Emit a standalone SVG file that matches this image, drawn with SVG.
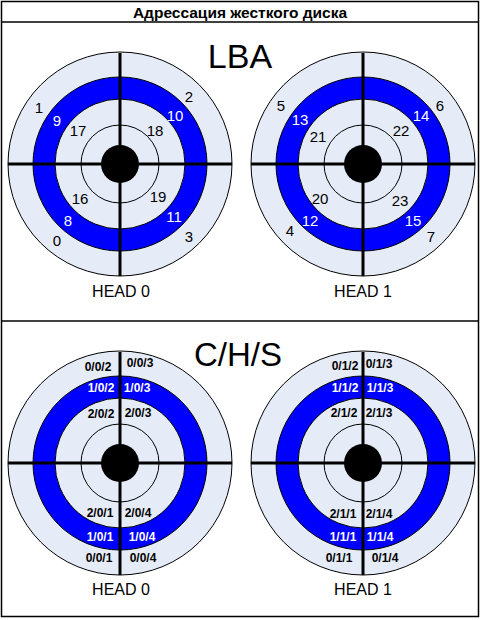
<svg xmlns="http://www.w3.org/2000/svg" xmlns:xlink="http://www.w3.org/1999/xlink" width="480" height="620" viewBox="0 0 480 620">
<style>
text{font-family:"Liberation Sans",Arial,sans-serif;fill:#000}
.lba{font-size:15px;text-anchor:middle}
.w{fill:#fff}
.chs{font-size:12px;font-weight:bold;text-anchor:middle}
.head{font-size:16px;text-anchor:middle}
.big{font-size:34px;text-anchor:middle}
.light{fill:#E6ECF7;stroke:#000;stroke-width:1}
.blue{fill:#0000FF;stroke:#000;stroke-width:1}
.cross{stroke:#000;stroke-width:3}
</style>
<defs>
<g id="disc">
<circle class="light" r="112"/>
<circle class="blue" r="87"/>
<circle class="light" r="65"/>
<circle class="light" r="39"/>
<line class="cross" x1="-112" y1="0" x2="112" y2="0"/>
<line class="cross" x1="0" y1="-111" x2="0" y2="112"/>
<circle r="19" fill="#000"/>
</g>
</defs>
<rect x="1.5" y="1.5" width="477" height="615" fill="#fff" stroke="#000" stroke-width="1.5"/>
<line x1="1.5" y1="22" x2="478.5" y2="22" stroke="#000" stroke-width="1.5"/>
<line x1="1.5" y1="321" x2="478.5" y2="321" stroke="#000" stroke-width="1.5"/>
<text x="240" y="18" style="font-size:15.5px;font-weight:bold;text-anchor:middle">Адрессация жесткого диска</text>
<text class="big" x="240" y="68">LBA</text>
<text class="big" x="238" y="366" style="font-size:33px">C/H/S</text>

<g id="lba-head0">
<use xlink:href="#disc" x="120" y="164"/>
<text class="lba" x="39" y="113">1</text>
<text class="lba" x="189" y="102">2</text>
<text class="lba w" x="57" y="126">9</text>
<text class="lba w" x="175" y="121">10</text>
<text class="lba" x="78" y="136">17</text>
<text class="lba" x="155" y="136">18</text>
<text class="lba" x="80" y="204">16</text>
<text class="lba" x="158" y="202">19</text>
<text class="lba w" x="68" y="226">8</text>
<text class="lba w" x="174" y="222">11</text>
<text class="lba" x="57" y="246">0</text>
<text class="lba" x="189" y="242">3</text>
<text class="head" x="121" y="297">HEAD 0</text>
</g>

<g id="lba-head1">
<use xlink:href="#disc" x="363" y="164"/>
<text class="lba" x="281" y="111">5</text>
<text class="lba" x="440" y="111">6</text>
<text class="lba w" x="300" y="125">13</text>
<text class="lba w" x="421" y="121">14</text>
<text class="lba" x="318" y="142">21</text>
<text class="lba" x="401" y="136">22</text>
<text class="lba" x="320" y="204">20</text>
<text class="lba" x="400" y="206">23</text>
<text class="lba w" x="310" y="226">12</text>
<text class="lba w" x="413" y="226">15</text>
<text class="lba" x="290" y="236">4</text>
<text class="lba" x="431" y="242">7</text>
<text class="head" x="363" y="297">HEAD 1</text>
</g>

<g id="chs-head0">
<use xlink:href="#disc" x="120" y="463"/>
<text class="chs" x="98" y="371">0/0/2</text>
<text class="chs" x="140" y="367">0/0/3</text>
<text class="chs w" x="101" y="392">1/0/2</text>
<text class="chs w" x="137" y="392">1/0/3</text>
<text class="chs" x="101" y="418">2/0/2</text>
<text class="chs" x="138" y="417">2/0/3</text>
<text class="chs" x="100" y="517">2/0/1</text>
<text class="chs" x="138" y="517">2/0/4</text>
<text class="chs w" x="100" y="541">1/0/1</text>
<text class="chs w" x="142" y="541">1/0/4</text>
<text class="chs" x="99" y="562">0/0/1</text>
<text class="chs" x="143" y="562">0/0/4</text>
<text class="head" x="121" y="595">HEAD 0</text>
</g>

<g id="chs-head1">
<use xlink:href="#disc" x="363" y="463"/>
<text class="chs" x="345" y="370">0/1/2</text>
<text class="chs" x="379" y="368">0/1/3</text>
<text class="chs w" x="345" y="392">1/1/2</text>
<text class="chs w" x="380" y="392">1/1/3</text>
<text class="chs" x="344" y="417">2/1/2</text>
<text class="chs" x="379" y="417">2/1/3</text>
<text class="chs" x="343" y="518">2/1/1</text>
<text class="chs" x="379" y="518">2/1/4</text>
<text class="chs w" x="343" y="541">1/1/1</text>
<text class="chs w" x="380" y="541">1/1/4</text>
<text class="chs" x="339" y="562">0/1/1</text>
<text class="chs" x="385" y="562">0/1/4</text>
<text class="head" x="363" y="595">HEAD 1</text>
</g>
</svg>
